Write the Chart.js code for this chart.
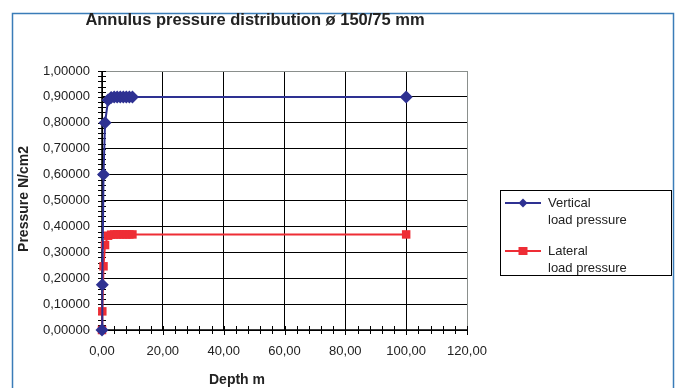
<!DOCTYPE html>
<html><head><meta charset="utf-8">
<script src="https://cdn.jsdelivr.net/npm/chart.js@4/dist/chart.umd.min.js"></script>
<style>html,body{margin:0;padding:0;background:#fff}canvas{display:block}</style>
</head><body>
<canvas id="c" width="678" height="388"></canvas>
<script>
const depths = [0, 0.1, 0.5, 1, 2, 3, 4, 5, 6, 7, 8, 9, 10, 100];
const verticalPressure = [0, 0.175, 0.6, 0.8, 0.888, 0.898, 0.9, 0.9, 0.9, 0.9, 0.9, 0.9, 0.9, 0.9];
const lateralPressure = [0, 0.072, 0.246, 0.328, 0.364, 0.368, 0.369, 0.369, 0.369, 0.369, 0.369, 0.369, 0.369, 0.369];
const seriesNames = [["Vertical", "load pressure"], ["Lateral", "load pressure"]];
const titleText = "Annulus pressure distribution ø 150/75 mm";
const xTitle = "Depth m";
const yTitle = "Pressure N/cm2";

const NAVY = "#2e3192", RED = "#ee2d35";
const FONT = "'Liberation Sans', Arial, sans-serif";

function fmt(v, d) { return v.toFixed(d).replace('.', ','); }

const deco = {
  id: 'deco',
  beforeDraw(chart) {
    const c = chart.ctx;
    c.save();
    c.fillStyle = '#fff';
    c.fillRect(0, 0, chart.width, chart.height);
    c.strokeStyle = '#3a7cb8';
    c.lineWidth = 1.5;
    c.strokeRect(12.5, 13.5, 661, 420);
    c.restore();
  },
  beforeDatasetsDraw(chart) {
    const c = chart.ctx, xs = chart.scales.x, ys = chart.scales.y, a = chart.chartArea;
    c.save();
    c.strokeStyle = '#000';
    c.lineWidth = 1.5;
    c.beginPath();
    c.moveTo(a.left, a.top); c.lineTo(a.left, a.bottom + 0.5);
    c.moveTo(a.left, a.bottom); c.lineTo(a.right, a.bottom);
    c.stroke();
    c.lineWidth = 1;
    c.beginPath();
    for (let v = 0; v <= 120.001; v += 4) {
      const px = Math.round(xs.getPixelForValue(v)) + 0.5;
      const major = Math.abs(v % 20) < 1e-6;
      c.moveTo(px, a.bottom - 4); c.lineTo(px, a.bottom + (major ? 5 : 4));
    }
    for (let i = 0; i <= 50; i++) {
      const v = i * 0.02;
      const py = Math.round(ys.getPixelForValue(v)) + 0.5;
      c.moveTo(a.left - 4, py); c.lineTo(a.left + 4, py);
    }
    c.stroke();
    c.restore();
  },
  afterDraw(chart) {
    const c = chart.ctx;
    c.save();
    c.fillStyle = '#222';
    c.font = "bold 16.5px " + FONT;
    c.textAlign = 'center';
    c.textBaseline = 'middle';
    c.fillText(titleText, 255, 20);
    c.font = "bold 14px " + FONT;
    c.fillText(xTitle, 237, 380);
    c.save();
    c.translate(24, 199);
    c.rotate(-Math.PI / 2);
    c.fillText(yTitle, 0, 0);
    c.restore();
    // legend
    c.strokeStyle = '#000';
    c.lineWidth = 1;
    c.strokeRect(500.5, 190.5, 171, 85);
    const cols = [NAVY, RED];
    const ys0 = [203, 251];
    c.font = "13px " + FONT;
    c.textAlign = 'left';
    for (let k = 0; k < 2; k++) {
      const y = ys0[k];
      c.strokeStyle = cols[k];
      c.lineWidth = 2;
      c.beginPath(); c.moveTo(505, y); c.lineTo(541, y); c.stroke();
      c.fillStyle = cols[k];
      c.beginPath();
      if (k === 0) {
        c.moveTo(523, y - 4.5); c.lineTo(527.5, y); c.lineTo(523, y + 4.5); c.lineTo(518.5, y); c.closePath();
      } else {
        c.rect(518.5, y - 4, 9, 8);
      }
      c.fill();
      c.fillStyle = '#222';
      c.fillText(seriesNames[k][0], 548, y);
      c.fillText(seriesNames[k][1], 548, y + 17);
    }
    c.restore();
  }
};

new Chart(document.getElementById('c'), {
  type: 'scatter',
  data: {
    datasets: [
      {
        label: seriesNames[0].join(' '),
        data: depths.map((d, i) => ({x: d, y: verticalPressure[i]})),
        showLine: true, borderColor: NAVY, backgroundColor: NAVY, borderWidth: 2,
        pointStyle: 'rectRot', pointRadius: 6.5, pointBorderWidth: 0, tension: 0, clip: false
      },
      {
        label: seriesNames[1].join(' '),
        data: depths.map((d, i) => ({x: d, y: lateralPressure[i]})),
        showLine: true, borderColor: RED, backgroundColor: RED, borderWidth: 2,
        pointStyle: 'rect', pointRadius: 6, pointBorderWidth: 0, tension: 0, clip: false
      }
    ]
  },
  options: {
    responsive: false, animation: false, devicePixelRatio: 1,
    layout: { padding: { left: 0, right: 211, top: 71, bottom: 0 } },
    plugins: { legend: { display: false }, title: { display: false }, tooltip: { enabled: false } },
    scales: {
      x: {
        type: 'linear', min: 0, max: 120,
        afterFit(s) { s.height = 58; },
        ticks: { stepSize: 20, padding: 14, color: '#222', font: { family: FONT, size: 13 }, callback: v => fmt(v, 2), maxRotation: 0 },
        grid: { color: ctx => (ctx.tick && ctx.tick.value >= 119.9) ? '#8a8f8c' : '#000', lineWidth: 1, drawTicks: false },
        border: { display: false }
      },
      y: {
        min: 0, max: 1,
        afterFit(s) { s.width = 102; },
        ticks: { stepSize: 0.1, padding: 12, color: '#222', font: { family: FONT, size: 13 }, callback: v => fmt(v, 5) },
        grid: { color: ctx => (ctx.tick && ctx.tick.value >= 0.999) ? '#8a8f8c' : '#000', lineWidth: 1, drawTicks: false },
        border: { display: false }
      }
    }
  },
  plugins: [deco]
});
</script>
</body></html>
